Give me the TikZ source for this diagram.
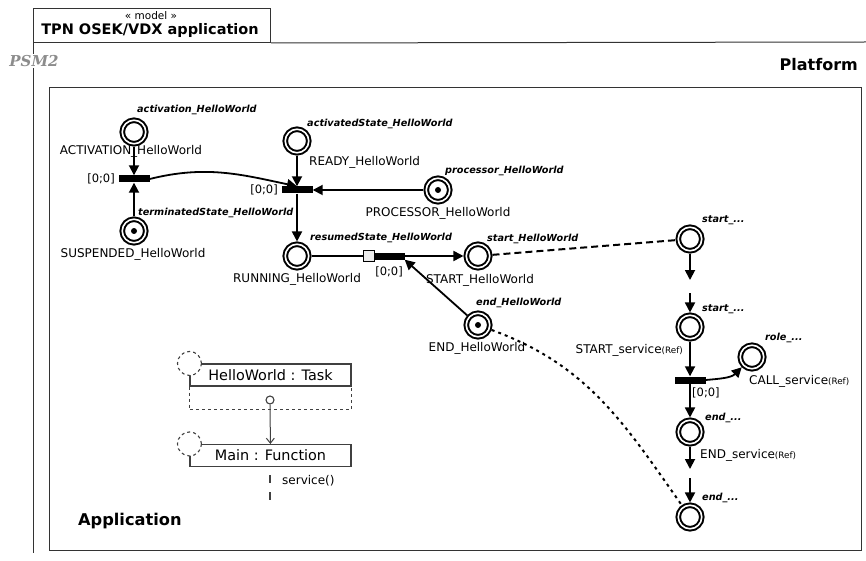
\documentclass[tikz,border=0pt]{standalone}
\usepackage{fontspec}
\setmainfont{DejaVu Sans}
\newfontfamily\psmfont{DejaVu Serif}
\usetikzlibrary{arrows.meta,positioning}

\begin{document}
\begin{tikzpicture}[x=1pt, y=1pt,
    place/.style={circle, draw, double, line width=2pt, double distance=1.6pt,
                  minimum size=23.5pt, inner sep=0pt, outer sep=2.8pt},
    token/.style={path picture={\fill (path picture bounding box.center) circle (3pt);}},
    trans/.style={rectangle, fill=black, minimum width=31pt, minimum height=7pt, inner sep=0pt},
    flow/.style={line width=1.8pt, -{Triangle[length=10pt,width=10pt]}},
    pname/.style={font=\fontsize{12}{14}\selectfont, inner sep=0pt},
    role/.style={font=\fontsize{9.7}{11}\selectfont\bfseries\itshape, inner sep=0pt, anchor=west},
    guard/.style={font=\fontsize{11.5}{13}\selectfont, inner sep=0pt},
    umlbox/.style={rectangle, draw=black!75, line width=1.1pt, minimum width=161pt, minimum height=22pt,
                   inner sep=0pt, font=\fontsize{14.4}{16}\selectfont},
    umlcirc/.style={circle, draw=black!75, dashed, fill=white, line width=1.1pt, minimum size=24pt, inner sep=0pt}
]
    \useasboundingbox (0,0) rectangle (866,-561);

    % model tab and frames
    \node[draw=black!80, line width=1pt, minimum width=237pt, minimum height=34pt, inner sep=0pt,
          anchor=north west] (tab) at (33,-8) {};
    \node[font=\fontsize{10.5}{12}\selectfont, inner sep=0pt] (stereo) at (151,-16) {« model »};
    \node[font=\fontsize{14.5}{16}\selectfont\bfseries, inner sep=0pt] (title) at (150,-31) {TPN OSEK/VDX application};
    \draw[draw=black!80, line width=1pt] (tab.south east) -- (866,-42);
    \draw[draw=black!80, line width=1pt] (tab.south west) -- (33,-553);
    \node[font=\fontsize{15}{17}\selectfont\psmfont\bfseries\itshape, text=black!45, fill=white,
          inner sep=1pt] (psm) at (34,-61) {PSM2};
    \node[font=\fontsize{16}{18}\selectfont\bfseries, inner sep=0pt, anchor=east] (platform) at (858,-65) {Platform};
    \draw[draw=black!80, line width=1pt] (49,-88) rectangle (861,-550);
    \node[font=\fontsize{16.2}{18}\selectfont\bfseries, inner sep=0pt, anchor=west] (appl) at (78,-521) {Application};

    % places
    \node[place] (act) at (134,-132) {};
    \node[place, token] (susp) at (134,-231) {};
    \node[place] (ready) at (297,-141) {};
    \node[place, token] (proc) at (438,-190) {};
    \node[place] (run) at (297,-256) {};
    \node[place] (start) at (478,-256) {};
    \node[place, token] (endp) at (478,-325) {};
    \node[place] (sstart) at (690,-239) {};
    \node[place] (sstartb) at (690,-327) {};
    \node[place] (call) at (752,-357) {};
    \node[place] (send) at (690,-432) {};
    \node[place] (sendb) at (690,-517) {};

    % transitions
    \node[trans] (t1) at (134,-179) {};
    \node[trans] (t2) at (297,-190) {};
    \node[trans] (t3) at (389,-256) {};
    \node[rectangle, draw, fill=black!8, line width=0.8pt, minimum size=11pt, inner sep=0pt] (prio) at (368.5,-256) {};
    \node[trans] (t4) at (690,-380) {};

    % names and roles
    \node[role] at (137,-110) {activation\_HelloWorld};
    \node[pname] at (131,-151) {ACTIVATION\_HelloWorld};
    \node[guard, anchor=east] at (115,-179) {[0;0]};
    \node[role] at (138,-213) {terminatedState\_HelloWorld};
    \node[pname] at (133,-254) {SUSPENDED\_HelloWorld};
    \node[role] at (307,-124) {activatedState\_HelloWorld};
    \node[pname, anchor=west] at (309,-162) {READY\_HelloWorld};
    \node[guard, anchor=east] at (278,-190) {[0;0]};
    \node[role] at (445,-171) {processor\_HelloWorld};
    \node[pname] at (438,-213) {PROCESSOR\_HelloWorld};
    \node[pname] at (297,-279) {RUNNING\_HelloWorld};
    \node[role] at (310,-238) {resumedState\_HelloWorld};
    \node[guard] at (389,-272) {[0;0]};
    \node[role] at (487,-239) {start\_HelloWorld};
    \node[pname] at (480,-280) {START\_HelloWorld};
    \node[role] at (476,-303) {end\_HelloWorld};
    \node[pname] at (477,-348) {END\_HelloWorld};
    \node[role] at (702,-220) {start\_...};
    \node[role] at (702,-309) {start\_...};
    \node[pname, anchor=east] at (683,-350) {START\_service{\fontsize{8.8}{10}\selectfont(Ref)}};
    \node[guard, anchor=west] at (692,-393) {[0;0]};
    \node[role] at (765,-338) {role\_...};
    \node[pname, anchor=west] at (749,-381) {CALL\_service{\fontsize{8.8}{10}\selectfont(Ref)}};
    \node[role] at (705,-418) {end\_...};
    \node[pname, anchor=west] at (700,-455) {END\_service{\fontsize{8.8}{10}\selectfont(Ref)}};
    \node[role] at (702,-498) {end\_...};

    % arcs
    \draw[flow] (act) -- (t1);
    \draw[flow] (susp) -- (t1);
    \draw[flow] (t1.east) to[out=14, in=168] (t2.north);
    \draw[flow] (ready) -- (t2);
    \draw[flow] (proc) -- (t2.east);
    \draw[flow] (t2) -- (run);
    \draw[line width=1.8pt] (run) -- (prio);
    \draw[flow] (t3) -- (start);
    \draw[flow] (endp) -- (t3.south east);
    \draw[line width=2pt, dash pattern=on 7pt off 4pt] (start) -- (sstart);
    \coordinate (g1) at (690,-280);
    \coordinate (g2) at (690,-293);
    \draw[flow] (sstart) -- (g1);
    \draw[flow] (g2) -- (sstartb);
    \draw[flow] (sstartb) -- (t4);
    \draw[flow] (t4.east) to[out=5, in=225] (call);
    \draw[flow] (t4) -- (send);
    \coordinate (g3) at (690,-469);
    \coordinate (g4) at (690,-478);
    \draw[flow] (send) -- (g3);
    \draw[flow] (g4) -- (sendb);
    \draw[line width=2pt, dash pattern=on 3pt off 4pt] (endp) to[out=-20, in=125] (sendb);

    % task and function
    \node[umlbox] (task) at (270.5,-375) {HelloWorld : Task};
    \draw[dashed, draw=black!75, line width=1.1pt] (task.south west) -- ++(0,-23) -| (task.south east);
    \node[umlcirc] (taskc) at (task.north west) {};
    \node[circle, draw=black!75, fill=white, line width=1.1pt, minimum size=8pt, inner sep=0pt] (port) at (270,-400) {};
    \node[umlbox] (main) at (270.5,-455.5) {Main : Function};
    \node[umlcirc] (mainc) at (main.north west) {};
    \draw[draw=black!75, line width=1pt, -{Straight Barb[length=5pt,width=8pt]}] (port) -- (main);
    \coordinate (svc1) at (270,-475);
    \coordinate (svc2) at (270,-500);
    \draw[draw=black!75, line width=1.1pt, dash pattern=on 8pt off 9pt] (svc1) -- (svc2);
    \node[pname, anchor=west] at (282,-481) {service()};
\end{tikzpicture}
\end{document}
